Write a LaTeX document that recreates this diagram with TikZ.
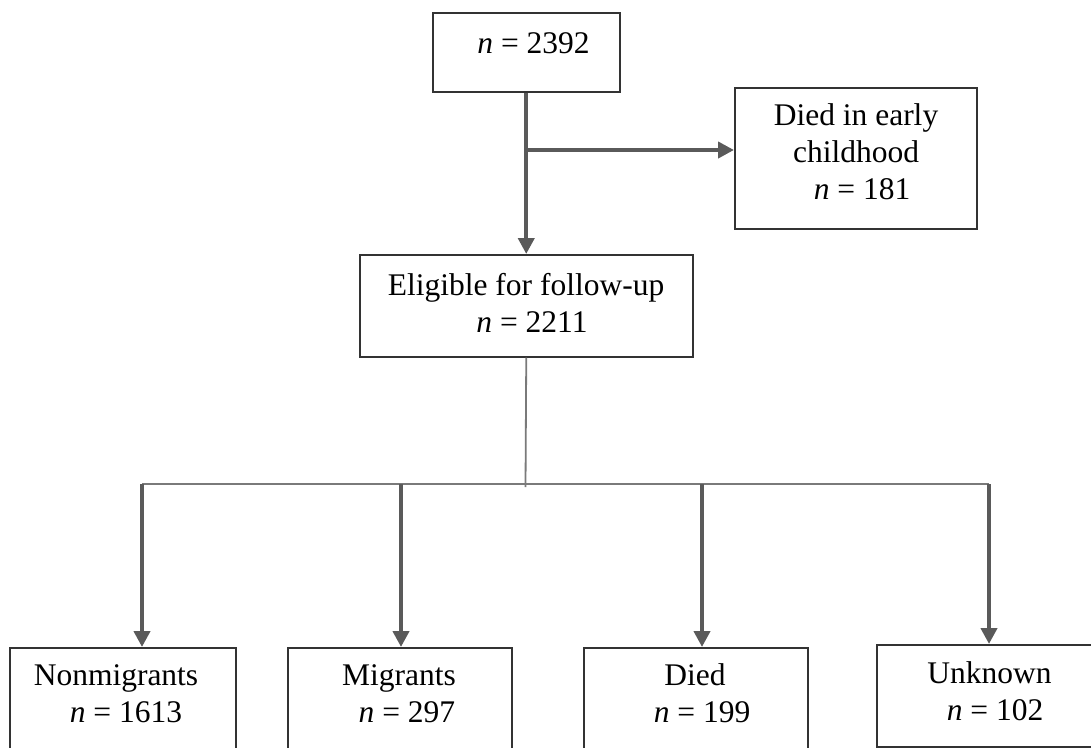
\documentclass[tikz,border=0pt]{standalone}
\usepackage{fontspec}
\setmainfont{Liberation Serif}
\usetikzlibrary{arrows.meta,calc}
\definecolor{arrowgray}{HTML}{5A5A5A}
\definecolor{thingray}{HTML}{7A7A7A}
\definecolor{boxline}{HTML}{333333}
\begin{document}
\begin{tikzpicture}[x=1pt,y=-1pt,
  boxnode/.style={draw=boxline,line width=1.5pt,rectangle,inner sep=0pt,anchor=north west},
  txt/.style={inner sep=0pt,anchor=north,align=center,font=\fontsize{31.5}{37}\selectfont},
  thickarrow/.style={draw=arrowgray,line width=4pt,-{Triangle[length=16pt,width=16pt]}},
  thinline/.style={draw=thingray,line width=1.8pt}]
\useasboundingbox (0,0) rectangle (1091,747);
% boxes
\node[boxnode,minimum width=187pt,minimum height=79pt] (top) at (432,12) {};
\node[boxnode,minimum width=242pt,minimum height=141pt] (early) at (734,87) {};
\node[boxnode,minimum width=333pt,minimum height=102pt] (elig) at (359,254) {};
\node[boxnode,minimum width=226pt,minimum height=160pt] (nm) at (9,647) {};
\node[boxnode,minimum width=224pt,minimum height=160pt] (mig) at (287,647) {};
\node[boxnode,minimum width=224pt,minimum height=160pt] (died) at (583,647) {};
\node[boxnode,minimum width=240pt,minimum height=102pt] (unk) at (876,644) {};
% texts
\node[txt] (toptxt) at (533.5,27.1) {\strut\textit{n} = 2392};
\node[txt] (earlytxt) at (856,99.1) {\strut Died in early\\\strut childhood\\\hspace*{12pt}\strut\textit{n} = 181};
\node[txt] (eligtxt) at (526,269.1) {\strut Eligible for follow-up\\\hspace*{12pt}\strut\textit{n} = 2211};
\node[txt] (nmtxt) at (116,659.1) {\strut Nonmigrants\\\hspace*{20pt}\strut\textit{n} = 1613};
\node[txt] (migtxt) at (399,659.1) {\strut Migrants\\\hspace*{16pt}\strut\textit{n} = 297};
\node[txt] (diedtxt) at (695,659.1) {\strut Died\\\hspace*{14pt}\strut\textit{n} = 199};
\node[txt] (unktxt) at (989.5,657.1) {\strut Unknown\\\hspace*{11pt}\strut\textit{n} = 102};
% connectors
\coordinate (j1) at (525.5,150);
\coordinate (j2) at (525.5,487);
\coordinate (a1) at (142,484);
\coordinate (a2) at (401,484);
\coordinate (a3) at (702,484);
\coordinate (a4) at (989,484);
\draw[thickarrow] (top.south) -- (elig.north);
\draw[thickarrow] (j1) -- (j1 -| early.west);
\draw[thinline] (elig.south) -- (j2);
\draw[thinline] (a1) -- (a4);
\draw[thickarrow] (a1) -- (a1 |- nm.north);
\draw[thickarrow] (a2) -- (a2 |- mig.north);
\draw[thickarrow] (a3) -- (a3 |- died.north);
\draw[thickarrow] (a4) -- (a4 |- unk.north);
\end{tikzpicture}
\end{document}
